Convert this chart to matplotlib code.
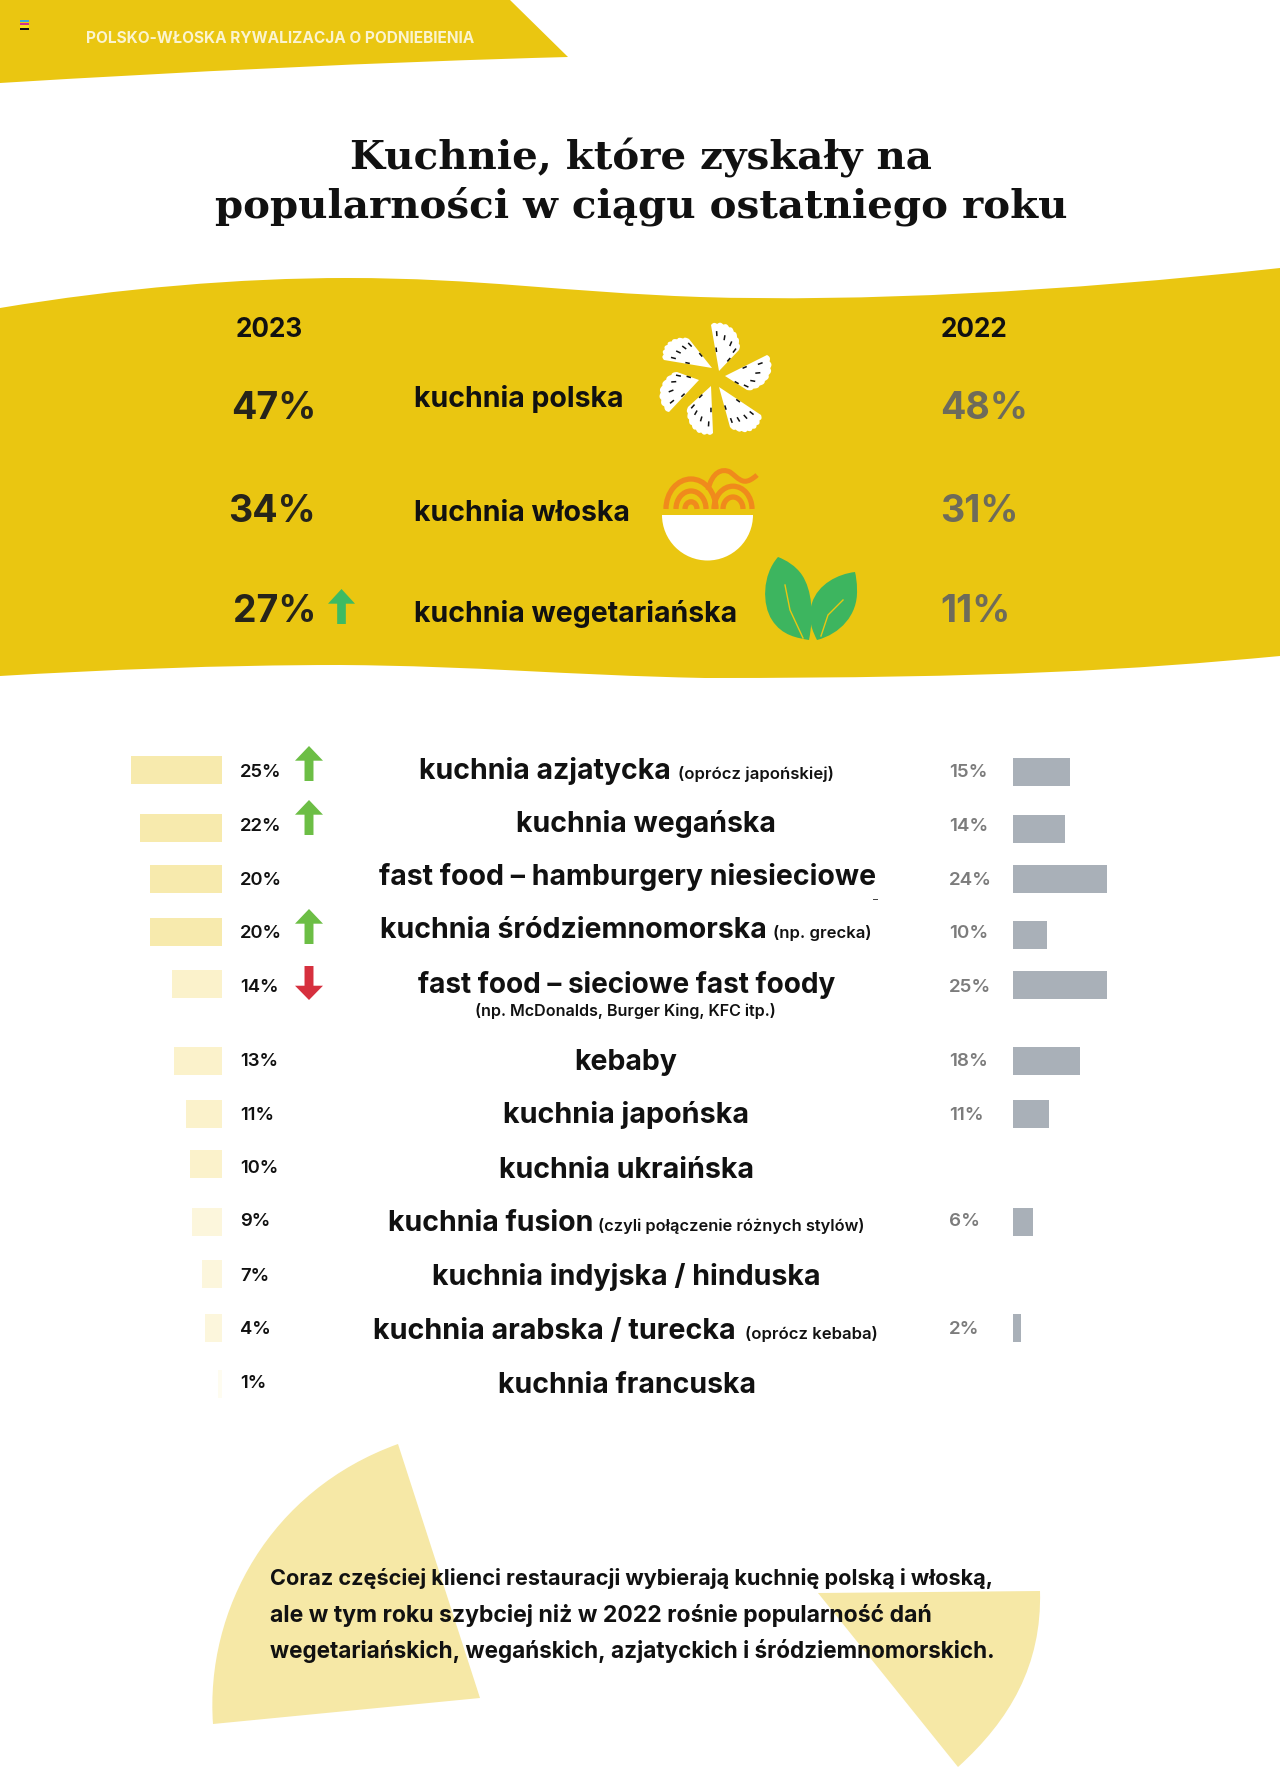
"""Kuchnie, które zyskały na popularności - infographic page."""

from __future__ import annotations

import numpy as np
import matplotlib

matplotlib.use("Agg")
import matplotlib.pyplot as plt
from matplotlib.patches import Arc, PathPatch, Polygon, Rectangle, Wedge
from matplotlib.path import Path

W, H = 1280, 1767
YELLOW = "#EAC611"
PALE = "#F6E8A6"
BLACK = "#111111"
FONT = "Inter"
SLAB = "DejaVu Serif"

# top block
TOP_LABELS = ["kuchnia polska", "kuchnia włoska", "kuchnia wegetariańska"]
TOP_2023 = [47, 34, 27]
TOP_2022 = [48, 31, 11]

# list block
MAIN_LABELS = [
    "kuchnia azjatycka", "kuchnia wegańska", "fast food – hamburgery niesieciowe",
    "kuchnia śródziemnomorska", "fast food – sieciowe fast foody", "kebaby",
    "kuchnia japońska", "kuchnia ukraińska", "kuchnia fusion",
    "kuchnia indyjska / hinduska", "kuchnia arabska / turecka", "kuchnia francuska",
]
NOTES = [
    "(oprócz japońskiej)", None, None, "(np. grecka)", None, None,
    None, None, "(czyli połączenie różnych stylów)", None, "(oprócz kebaba)", None,
]
VALUES_2023 = [25, 22, 20, 20, 14, 13, 11, 10, 9, 7, 4, 1]
VALUES_2022 = [15, 14, 24, 10, 25, 18, 11, None, 6, None, 2, None]
# bar lengths, a little off the rounded labels
BARS_2023 = [25.1, 22.6, 20.0, 20.0, 13.8, 13.2, 10.0, 8.9, 8.3, 5.5, 4.7, 1.1]
BARS_2022 = [15.2, 13.9, 25.0, 9.0, 25.0, 17.9, 9.6, None, 5.3, None, 2.1, None]
TRENDS = ["up", "up", None, "up", "down", None, None, None, None, None, None, None]

# layout, page pixels
ROW_Y = [770.5, 827.5, 878.5, 932, 983.5, 1060.5, 1114, 1164, 1222, 1274, 1328, 1384]
ROW_Y_RIGHT = [772, 829, 878.5, 935, 985, 1060.5, 1114, 1164, 1222, 1274, 1328, 1384]
LABEL_BASE = [777, 831, 885, 938, 992, 1066, 1120, 1173, 1226, 1281, 1334, 1388]
MAIN_BASE = [779, 832, 885, 938, 993, 1070, 1123, 1178, 1231, 1285, 1339, 1393]
MAIN_X = [419, 516, 379, 380, 418, 574, 503, 499, 388, 432, 373, 498]
MAIN_SIZE = [20.5, 20.5, 20.5, 20.5, 20.1, 20.5, 20.7, 20.6, 20.5, 20.6, 20.7, 20.5]
NOTE_X = [678, 0, 0, 773, 0, 0, 0, 0, 598, 0, 745, 0]
NOTE_SIZE = [12, 0, 0, 12, 0, 0, 0, 0, 11.8, 0, 12, 0]
ARROW_Y = [746, 800, 0, 909, 966, 0, 0, 0, 0, 0, 0, 0]
LEFT_COLORS = ["#F7EAAD"] * 4 + ["#FBF2CB"] * 4 + ["#FCF6DC"] * 3 + ["#FEFCF0"]


def shape(ax, verts, codes, **kwargs):
    ax.add_patch(PathPatch(Path(verts, codes), lw=0, **kwargs))


def curved(ax, start, segments, color):
    """Closed shape from a start point and cubic segments or straight points."""
    verts, codes = [start], [Path.MOVETO]
    for seg in segments:
        if len(seg) == 3:
            verts += list(seg)
            codes += [Path.CURVE4] * 3
        else:
            verts.append(seg[0])
            codes.append(Path.LINETO)
    verts.append(start)
    codes.append(Path.CLOSEPOLY)
    shape(ax, verts, codes, color=color)


def arrow(ax, x0, x1, y0, y1, color, up=True):
    mid = (x0 + x1) / 2
    half = (x1 - x0) * 0.16
    head = (y1 - y0) * 0.42
    if up:
        pts = [(mid, y0), (x1, y0 + head), (mid + half, y0 + head), (mid + half, y1),
               (mid - half, y1), (mid - half, y0 + head), (x0, y0 + head)]
    else:
        pts = [(mid, y1), (x1, y1 - head), (mid + half, y1 - head), (mid + half, y0),
               (mid - half, y0), (mid - half, y1 - head), (x0, y1 - head)]
    ax.add_patch(Polygon(pts, closed=True, color=color, lw=0, zorder=4))


def dumpling(ax, apex, p1, p2):
    apex = np.array(apex, dtype=float)
    v1, v2 = np.array(p1) - apex, np.array(p2) - apex
    a1, a2 = np.arctan2(v1[1], v1[0]), np.arctan2(v2[1], v2[0])
    if a2 - a1 > np.pi:
        a2 -= 2 * np.pi
    if a1 - a2 > np.pi:
        a2 += 2 * np.pi
    r1, r2 = np.hypot(*v1), np.hypot(*v2)
    t = np.linspace(0, 1, 80)
    ang = a1 + (a2 - a1) * t
    rad = (r1 + (r2 - r1) * t) * (1 + 0.15 * np.sin(np.pi * t)) + 1.4 * np.abs(np.sin(t * np.pi * 7))
    pts = np.column_stack([apex[0] + rad * np.cos(ang), apex[1] + rad * np.sin(ang)])
    ax.add_patch(Polygon(np.vstack([apex, pts]), closed=True, color="white", lw=0, zorder=3))
    for tick in [0.12, 0.36, 0.62, 0.88]:
        a = a1 + (a2 - a1) * tick
        r = (r1 + (r2 - r1) * tick) * 0.88
        ax.plot([apex[0] + r * np.cos(a), apex[0] + (r - 3.5) * np.cos(a)],
                [apex[1] + r * np.sin(a), apex[1] + (r - 3.5) * np.sin(a)],
                color=BLACK, lw=1.1, zorder=4)
    for tick, frac in [(0.05, 0.5), (0.95, 0.55)]:
        a = a1 + (a2 - a1) * tick
        r = (r1 + (r2 - r1) * tick) * frac
        ax.plot([apex[0] + r * np.cos(a), apex[0] + (r - 3) * np.cos(a)],
                [apex[1] + r * np.sin(a), apex[1] + (r - 3) * np.sin(a)],
                color=BLACK, lw=1.1, zorder=4)


def draw_bowl(ax):
    orange = "#F08A1C"
    ax.add_patch(Wedge((707.5, 515), 45.5, 0, 180, color="white", lw=0, zorder=3))
    for cx, radii in [(691, [25, 15, 6]), (733, [19, 10])]:
        for r in radii:
            ax.add_patch(Arc((cx, 509), 2 * r, 2 * r * 1.2, theta1=180, theta2=360,
                             color=orange, lw=3.8, zorder=3))
    tail = Path(
        [(708, 490), (712, 472), (722, 468), (730, 472), (738, 478), (742, 484), (750, 480), (754, 478), (757, 475)],
        [Path.MOVETO] + [Path.CURVE4] * 6 + [Path.CURVE3] * 2,
    )
    ax.add_patch(PathPatch(tail, fc="none", ec=orange, lw=3.6, zorder=3))


def draw_leaves(ax):
    green = "#3DB55F"
    curved(ax, (778, 557), [
        ((762, 575), (762, 605), (772, 620)),
        ((782, 636), (798, 638), (809, 640)),
        ((814, 615), (812, 590), (802, 575)),
        ((796, 566), (786, 560), (778, 557)),
    ], green)
    curved(ax, (855, 572), [
        ((838, 574), (818, 584), (812, 603)),
        ((807, 620), (813, 632), (817, 640)),
        ((840, 634), (858, 615), (857, 590)),
        ((857, 582), (856, 576), (855, 572)),
    ], green)
    ax.plot([785, 790, 803], [585, 610, 638], color=YELLOW, lw=1.0, zorder=4)
    ax.plot([843, 828, 821], [600, 615, 636], color=YELLOW, lw=1.0, zorder=4)


fig = plt.figure(figsize=(W / 100, H / 100), dpi=100, facecolor="white")
ax = fig.add_axes([0, 0, 1, 1])
ax.set_xlim(0, W)
ax.set_ylim(H, 0)
ax.axis("off")

# ribbon at the top
curved(ax, (0, 0), [((510, 0),), ((568, 57),), ((380, 62), (180, 72), (0, 83))], YELLOW)
for i, c in enumerate(["#38A8E0", "#D0308F", "#F5E020", "#111111"]):
    ax.add_patch(Rectangle((20, 20 + i * 2.6), 8.5, 2.4, color=c, lw=0))
ax.text(86, 43, "POLSKO-WŁOSKA RYWALIZACJA O PODNIEBIENIA", family=FONT, weight="bold",
        fontsize=11.1, color="#FBF4CF")

# title
ax.text(641, 170, "Kuchnie, które zyskały na", family=SLAB, weight="bold", fontsize=29.1, color=BLACK, ha="center")
ax.text(641, 218, "popularności w ciągu ostatniego roku", family=SLAB, weight="bold", fontsize=29.1, color=BLACK, ha="center")

# yellow wave
curved(ax, (0, 308), [
    ((120, 288), (240, 278), (347, 278)),
    ((480, 278), (560, 292), (700, 297)),
    ((860, 302), (1060, 292), (1280, 268)),
    ((1280, 656),),
    ((1130, 670), (1000, 678), (705, 678)),
    ((560, 675), (480, 666), (340, 665)),
    ((220, 665), (100, 670), (0, 676)),
], YELLOW)

ax.text(236, 337, "2023", family=FONT, weight="bold", fontsize=18.8, color=BLACK)
ax.text(941, 337, "2022", family=FONT, weight="bold", fontsize=18.8, color=BLACK)
for y, now, prev in zip([418.5, 521.5, 622], TOP_2023, TOP_2022):
    ax.text(316, y, f"{now}%", family=FONT, weight="bold", fontsize=27, color="#26241A", ha="right")
    ax.text(940, y, f"{prev}%", family=FONT, weight="bold", fontsize=27, color="#6E6B5A")
for y, label in zip([407, 521, 622], TOP_LABELS):
    ax.text(414, y, label, family=FONT, weight="bold", fontsize=20.5, color=BLACK)
arrow(ax, 328, 355, 589, 624, "#3DBB63")

for apex, p1, p2 in [
    ((719, 371), (711, 325), (739, 350)),
    ((712, 368), (689, 339), (664, 360)),
    ((725, 376), (767, 355), (747, 390)),
    ((719, 387), (761, 415), (730, 427)),
    ((711, 386), (688, 407), (713, 433)),
    ((699, 380), (677, 372), (669, 412)),
]:
    dumpling(ax, apex, p1, p2)
draw_bowl(ax)
draw_leaves(ax)

# bars, scaled in percent
ax_left = fig.add_axes([0, 0, 222 / W, 1])
ax_left.set_xlim(222 / 3.62, 0)
ax_left.set_ylim(H, 0)
ax_left.axis("off")
ax_left.patch.set_alpha(0)
ax_left.barh(ROW_Y, BARS_2023, height=28, color=LEFT_COLORS, lw=0)

ax_right = fig.add_axes([1013 / W, 0, (W - 1013) / W, 1])
ax_right.set_xlim(0, (W - 1013) / 3.75)
ax_right.set_ylim(H, 0)
ax_right.axis("off")
ax_right.patch.set_alpha(0)
right_y = [y for y, v in zip(ROW_Y_RIGHT, BARS_2022) if v is not None]
right_v = [v for v in BARS_2022 if v is not None]
ax_right.barh(right_y, right_v, height=28, color="#A9B0B8", lw=0)

for i, label in enumerate(MAIN_LABELS):
    ax.text(240, LABEL_BASE[i], f"{VALUES_2023[i]}%", family=FONT, weight="semibold", fontsize=13.3, color=BLACK)
    if VALUES_2022[i] is not None:
        ax.text(949, LABEL_BASE[i], f"{VALUES_2022[i]}%", family=FONT, weight="semibold", fontsize=13.5, color="#7C7C7C")
    ax.text(MAIN_X[i], MAIN_BASE[i], label, family=FONT, weight="bold", fontsize=MAIN_SIZE[i], color=BLACK)
    if NOTES[i]:
        ax.text(NOTE_X[i], MAIN_BASE[i], NOTES[i], family=FONT, weight="semibold", fontsize=NOTE_SIZE[i], color=BLACK)
    if TRENDS[i] == "up":
        arrow(ax, 295, 323, ARROW_Y[i], ARROW_Y[i] + 35, "#6CBE45")
    elif TRENDS[i] == "down":
        arrow(ax, 295, 323, ARROW_Y[i], ARROW_Y[i] + 34, "#D6303E", up=False)
ax.text(475, 1016, "(np. McDonalds, Burger King, KFC itp.)", family=FONT, weight="semibold", fontsize=11.6, color=BLACK)
ax.add_patch(Rectangle((873, 898.5), 5, 1.5, color="#444444", lw=0))

# pale shapes behind the closing text
curved(ax, (398, 1444), [
    ((480, 1698),),
    ((213, 1724),),
    ((205, 1610), (270, 1490), (398, 1444)),
], PALE)
curved(ax, (818, 1593), [
    ((1040, 1591),),
    ((1042, 1665), (1010, 1720), (958, 1767)),
], PALE)

for y, line, size in zip([1585, 1622, 1658], [
    "Coraz częściej klienci restauracji wybierają kuchnię polską i włoską,",
    "ale w tym roku szybciej niż w 2022 rośnie popularność dań",
    "wegetariańskich, wegańskich, azjatyckich i śródziemnomorskich.",
], [15.6, 16.55, 16.2]):
    ax.text(270, y, line, family=FONT, weight="bold", fontsize=size, color=BLACK, zorder=5)

fig.savefig("out.png", dpi=100)
